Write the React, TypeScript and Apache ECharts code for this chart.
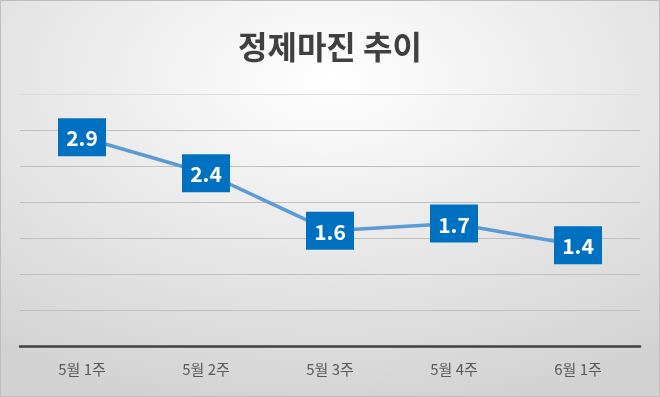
import React, { useEffect, useRef } from "react";
import * as echarts from "echarts";

const categories = ["5월 1주", "5월 2주", "5월 3주", "5월 4주", "6월 1주"];
const values = [2.9, 2.4, 1.6, 1.7, 1.4];
const titleText = "정제마진 추이";

export default function App() {
  const ref = useRef<HTMLDivElement>(null);
  useEffect(() => {
    if (!ref.current) return;
    const chart = echarts.init(ref.current, undefined, { renderer: "svg" });
    const font = "'Noto Sans CJK KR', 'Noto Sans', sans-serif";
    chart.setOption({
      animation: false,
      backgroundColor: {
        type: "radial",
        x: 0.5,
        y: 0.2,
        r: 0.85,
        colorStops: [
          { offset: 0, color: "#ffffff" },
          { offset: 1, color: "#d2d2d2" },
        ],
      },
      textStyle: { fontFamily: font },
      title: {
        text: titleText,
        left: "center",
        top: 24,
        textStyle: { fontSize: 32, fontWeight: "bold", color: "#404040", fontFamily: font },
      },
      graphic: [
        {
          type: "rect",
          shape: { x: 0.5, y: 0.5, width: 659, height: 396 },
          style: { fill: "none", stroke: "#bdbdbd", lineWidth: 1 },
          silent: true,
        },
      ],
      grid: { left: 20, right: 20, top: 94, bottom: 51 },
      xAxis: {
        type: "category",
        data: categories,
        boundaryGap: true,
        axisLine: { lineStyle: { color: "#404040", width: 2.5 } },
        axisTick: { show: false },
        axisLabel: { color: "#595959", fontSize: 15, margin: 15, fontFamily: font },
      },
      yAxis: {
        type: "value",
        min: 0,
        max: 3.5,
        interval: 0.5,
        axisLabel: { show: false },
        axisLine: { show: false },
        axisTick: { show: false },
        splitLine: {
          lineStyle: {
            color: ["#bfbfbf", "#bfbfbf", "#bfbfbf", "#bfbfbf", "#bfbfbf", "#bfbfbf", "#bfbfbf", "#dcdcdc"],
            width: 1,
          },
        },
      },
      series: [
        {
          type: "line",
          data: values,
          lineStyle: { color: "#5b9bd5", width: 3.5 },
          symbol: "rect",
          symbolSize: [48, 38],
          itemStyle: { color: "#0070c0" },
          label: {
            show: true,
            position: "inside",
            color: "#ffffff",
            fontSize: 21,
            fontWeight: "bold",
            fontFamily: font,
            formatter: (p: any) => p.value.toFixed(1),
          },
        },
      ],
    });
    return () => chart.dispose();
  }, []);
  return (
    <div
      ref={ref}
      style={{ position: "fixed", left: 0, top: 0, width: 660, height: 397 }}
    />
  );
}
